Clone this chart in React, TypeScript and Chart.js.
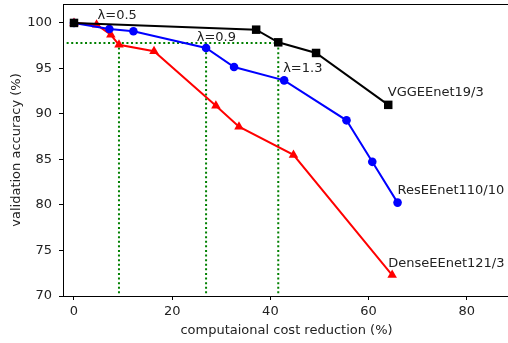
import React, { useEffect, useRef } from "react";
import { Chart, registerables } from "chart.js";

Chart.register(...registerables);

// ---- data ----
const vggX = [0, 37.1, 41.6, 49.3, 64.0];
const vggY = [100, 99.26, 97.87, 96.7, 91.0];

const resX = [0, 7.2, 12.1, 26.9, 32.6, 42.8, 55.5, 60.75, 65.9];
const resY = [100, 99.34, 99.08, 97.25, 95.16, 93.69, 89.3, 84.74, 80.26];

const denseX = [0, 4.6, 7.5, 9.16, 16.3, 28.9, 33.6, 44.7, 64.8];
const denseY = [100, 99.8, 98.7, 97.6, 96.9, 90.9, 88.6, 85.5, 72.3];

const guideXs = [9.16, 26.9, 41.6];
const guideY = 97.8;
const guideStartX = -1.5;

const xTicks = [0, 20, 40, 60, 80];
const yTicks = [70, 75, 80, 85, 90, 95, 100];

const labelTexts = ["λ=0.5", "λ=0.9", "λ=1.3", "VGGEEnet19/3", "ResEEnet110/10", "DenseEEnet121/3"];
const labelX = [4.8, 25.0, 42.6, 63.9, 65.9, 64.0];
const labelY = [100.47, 97.98, 94.57, 91.93, 81.22, 73.22];

const FONT = "'DejaVu Sans', sans-serif";
const TEXT = "#222";
const FS = 13;

const zip = (xs: number[], ys: number[]) => xs.map((x, i) => ({ x, y: ys[i] }));

export default function App() {
  const ref = useRef<HTMLCanvasElement | null>(null);

  useEffect(() => {
    document.body.style.margin = "0";
    document.body.style.overflow = "hidden";
    const canvas = ref.current;
    if (!canvas) return;

    const labelsPlugin = {
      id: "labelsAndFrame",
      afterDatasetsDraw(chart: any) {
        const { ctx, chartArea, scales } = chart;
        ctx.save();
        ctx.strokeStyle = "#000";
        ctx.lineWidth = 1;
        ctx.beginPath();
        const t = Math.round(chartArea.top) + 0.5;
        ctx.moveTo(chartArea.left, t);
        ctx.lineTo(chartArea.right, t);
        ctx.stroke();
        ctx.font = `${FS}px ${FONT}`;
        ctx.fillStyle = TEXT;
        ctx.textAlign = "left";
        ctx.textBaseline = "alphabetic";
        labelTexts.forEach((s, i) => {
          ctx.fillText(s, scales.x.getPixelForValue(labelX[i]), scales.y.getPixelForValue(labelY[i]));
        });
        ctx.restore();
      },
    };

    const guideSets = [
      {
        data: [
          { x: guideStartX, y: guideY },
          { x: guideXs[guideXs.length - 1], y: guideY },
        ],
      },
      ...guideXs.map((gx) => ({
        data: [
          { x: gx, y: guideY },
          { x: gx, y: 70 },
        ],
      })),
    ].map((d) => ({
      ...d,
      borderColor: "#008000",
      borderWidth: 2,
      borderDash: [2, 2.6],
      pointRadius: 0,
      fill: false,
    }));

    const chart = new Chart(canvas, {
      type: "line",
      data: {
        datasets: [
          {
            label: "VGGEEnet19/3",
            data: zip(vggX, vggY),
            borderColor: "#000",
            backgroundColor: "#000",
            borderWidth: 2,
            pointStyle: "rect",
            pointRadius: 6,
            pointBorderWidth: 0,
          },
          {
            label: "ResEEnet110/10",
            data: zip(resX, resY),
            borderColor: "#0000ff",
            backgroundColor: "#0000ff",
            borderWidth: 2,
            pointStyle: "circle",
            pointRadius: 4.3,
            pointBorderWidth: 0,
          },
          {
            label: "DenseEEnet121/3",
            data: zip(denseX, denseY),
            borderColor: "#ff0000",
            backgroundColor: "#ff0000",
            borderWidth: 2,
            pointStyle: "triangle",
            pointRadius: 5.5,
            pointBorderWidth: 0,
          },
          ...guideSets,
        ] as any,
      },
      options: {
        animation: false,
        responsive: false,
        devicePixelRatio: 1,
        layout: { autoPadding: false, padding: { top: 4, left: 0, right: 0, bottom: 0 } },
        plugins: { legend: { display: false }, tooltip: { enabled: false } },
        elements: { line: { tension: 0 } },
        scales: {
          x: {
            type: "linear",
            min: -2.24,
            max: 88.8,
            afterBuildTicks: (s: any) => {
              s.ticks = xTicks.map((v) => ({ value: v }));
            },
            afterFit: (s: any) => {
              s.height = 47;
              s.paddingLeft = 0;
              s.paddingRight = 0;
              s.paddingTop = 0;
              s.paddingBottom = 0;
            },
            grid: { drawOnChartArea: false, drawTicks: true, tickLength: 4, color: "#000", lineWidth: 1 },
            border: { display: true, color: "#000", width: 1 },
            ticks: { color: TEXT, font: { family: FONT, size: FS }, padding: 4, maxRotation: 0 },
            title: {
              display: true,
              text: "computaional cost reduction (%)",
              color: TEXT,
              font: { family: FONT, size: FS },
              padding: { top: 0, bottom: 5 },
            },
          },
          y: {
            type: "linear",
            min: 70,
            max: 102.08,
            afterBuildTicks: (s: any) => {
              s.ticks = yTicks.map((v) => ({ value: v }));
            },
            afterFit: (s: any) => {
              s.width = 63;
              s.paddingLeft = 0;
              s.paddingRight = 0;
              s.paddingTop = 0;
              s.paddingBottom = 0;
            },
            grid: { drawOnChartArea: false, drawTicks: true, tickLength: 4, color: "#000", lineWidth: 1 },
            border: { display: true, color: "#000", width: 1 },
            ticks: { color: TEXT, font: { family: FONT, size: FS }, padding: 7 },
            title: {
              display: true,
              text: "validation accuracy (%)",
              color: TEXT,
              font: { family: FONT, size: FS },
              padding: { top: 9, bottom: 0 },
            },
          },
        },
      } as any,
      plugins: [labelsPlugin],
    });

    return () => chart.destroy();
  }, []);

  return (
    <div style={{ width: 508, height: 343, position: "relative", overflow: "hidden" }}>
      <canvas ref={ref} width={510} height={343} style={{ display: "block" }} />
    </div>
  );
}
